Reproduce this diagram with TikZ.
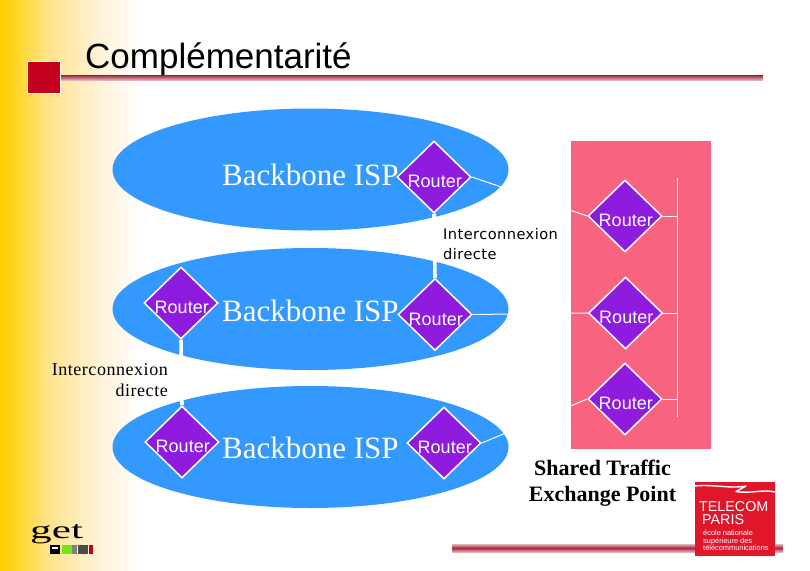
\documentclass[tikz,border=0pt]{standalone}
\usepackage{fontspec}
\setmainfont{Liberation Serif}
\setsansfont{Liberation Sans}
\newfontfamily\dejasans{DejaVu Sans}
\usetikzlibrary{shapes.geometric}
\definecolor{bluefill}{HTML}{3399FF}
\definecolor{pinkfill}{HTML}{F8647F}
\definecolor{routerfill}{HTML}{8E1BDD}
\definecolor{titlered}{HTML}{C4001F}
\definecolor{rulered}{HTML}{A8283C}
\definecolor{logored}{HTML}{E0162B}
\definecolor{sideyellow}{HTML}{FFD000}
\definecolor{sidea}{HTML}{FFE48F}
\definecolor{sideb}{HTML}{FFF3D9}
\pgfdeclarehorizontalshading{sideshade}{100bp}{
  color(0bp)=(sideyellow); color(26bp)=(sideyellow); color(41.67bp)=(sidea);
  color(58.33bp)=(sideb); color(71.67bp)=(white); color(100bp)=(white)}
\tikzset{
  backbone/.style={ellipse,fill=bluefill,minimum width=396pt,minimum height=122pt,inner sep=0pt},
  router/.style={diamond,shape aspect=1,draw=white,line width=1.5pt,fill=routerfill,text=white,
    minimum width=74pt,minimum height=72pt,inner sep=0pt,
    font=\sffamily\fontsize{18}{18}\selectfont},
  link/.style={draw=white,line width=1pt},
  trunk/.style={draw=white,line width=3.6pt},
  bbtext/.style={text=white,anchor=base west,inner sep=0pt,font=\rmfamily\fontsize{31}{31}\selectfont},
  logotext/.style={text=white,anchor=base west,inner sep=0pt},
}
\newcommand{\routerlabel}{\raisebox{-10.5pt}[0pt][0pt]{\hspace{1.5pt}Router}}
\begin{document}
\begin{tikzpicture}[x=1pt,y=-1pt]
\useasboundingbox (0,0) rectangle (810,570);
% background
\fill[white] (0,0) rectangle (810,570);
\shade[shading=sideshade] (0,0) rectangle (150,570);
% title
\node[anchor=base west,inner sep=0pt,font=\sffamily\fontsize{35}{36}\selectfont] (title) at (85,68) {Complémentarité};
\shade[top color=rulered!90!black,bottom color=rulered!35!white] (60,75) rectangle (763,80);
\node[fill=titlered,draw=white,line width=.4pt,minimum width=33pt,minimum height=32pt,inner sep=0pt] (bullet) at (44,77.5) {};
% bottom rule
\shade[top color=rulered!35!white,bottom color=rulered!35!white,middle color=rulered] (452,544) rectangle (783,552);
% ellipses
\node[backbone] (e1) at (310.5,169.5) {};
\node[backbone] (e2) at (310.5,309) {};
\node[backbone] (e3) at (310.5,447) {};
% exchange point
\node[fill=pinkfill,minimum width=140pt,minimum height=308pt,inner sep=0pt] (xp) at (641,295) {};
% bus
\coordinate (bustop) at (677,178);
\coordinate (busbot) at (677,417);
\coordinate (b1) at (677,216);
\coordinate (b2) at (677,313);
\coordinate (b3) at (677,399);
% routers
\node[router] (r1) at (434,177) {\routerlabel};
\node[router] (r2) at (435,314.5) {\routerlabel};
\node[router] (r3) at (444,443) {\routerlabel};
\node[router] (l2) at (181,303) {\routerlabel};
\node[router] (l3) at (182,442) {\routerlabel};
\node[router] (p1) at (625,216) {\routerlabel};
\node[router] (p2) at (625.5,313) {\routerlabel};
\node[router] (p3) at (625,399) {\routerlabel};
\draw[link] (bustop) -- (busbot);
\draw[link] (p1.east) -- (b1);
\draw[link] (p2.east) -- (b2);
\draw[link] (p3.east) -- (b3);
\draw[link] (r1.east) -- (p1.west);
\draw[link] (r2.east) -- (p2.west);
\draw[link] (r3.east) -- (p3.west);
\draw[trunk] (r1.south) -- (r2.north);
\draw[trunk] (l2.south) -- (l3.north);
% labels
\node[bbtext] (t1) at (222,185) {Backbone ISP};
\node[bbtext] (t2) at (222,321) {Backbone ISP};
\node[bbtext] (t3) at (222,458) {Backbone ISP};
\node[anchor=base west,inner sep=0pt,align=left,font=\dejasans\addfontfeature{LetterSpace=3}\fontsize{14.6}{19.5}\selectfont] (i1) at (443,259) {Interconnexion\\directe};
\node[anchor=base east,inner sep=0pt,align=right,font=\rmfamily\addfontfeature{LetterSpace=3}\fontsize{18}{21}\selectfont] (i2) at (168,396) {Interconnexion\\directe};
\node[anchor=base,inner sep=0pt,align=center,font=\rmfamily\bfseries\fontsize{22}{26}\selectfont] (sh) at (602.5,501) {Shared Traffic\\Exchange Point};
% get logo
\node[anchor=base west,inner sep=0pt,font=\rmfamily\fontsize{25}{25}\selectfont] (get) at (30,538) {\scalebox{1.73}[1]{get}};
\fill[black] (50,545) rectangle (60,554);
\fill[white] (52,547) rectangle (58,548.5);
\fill[green!55!yellow!80!gray] (62,545) rectangle (72,554);
\fill[gray] (72,545) rectangle (77,554);
\fill[black!70] (78,545) rectangle (88,554);
\fill[titlered] (89,545) rectangle (93,554);
% telecom logo
\node[fill=logored,minimum width=80pt,minimum height=74pt,inner sep=0pt] (tp) at (735,519) {};
\draw[white,line width=1.4pt,line join=round] (695,486) .. controls (712,484) and (730,489) .. (746,486) -- (736,491.5) .. controls (750,494) and (763,489) .. (775,492);
\node[logotext,font=\sffamily\fontsize{14.3}{15}\selectfont] (tp1) at (699,511) {TELECOM};
\node[logotext,font=\sffamily\fontsize{14.3}{15}\selectfont] (tp2) at (702,524.5) {PARIS};
\node[logotext,font=\sffamily\fontsize{7.4}{8}\selectfont] (tp3) at (703,535) {école nationale};
\node[logotext,font=\sffamily\fontsize{7.4}{8}\selectfont] (tp4) at (703,543) {supérieure des};
\node[logotext,font=\sffamily\fontsize{7.4}{8}\selectfont] (tp5) at (703,550) {télécommunications};
\end{tikzpicture}
\end{document}
